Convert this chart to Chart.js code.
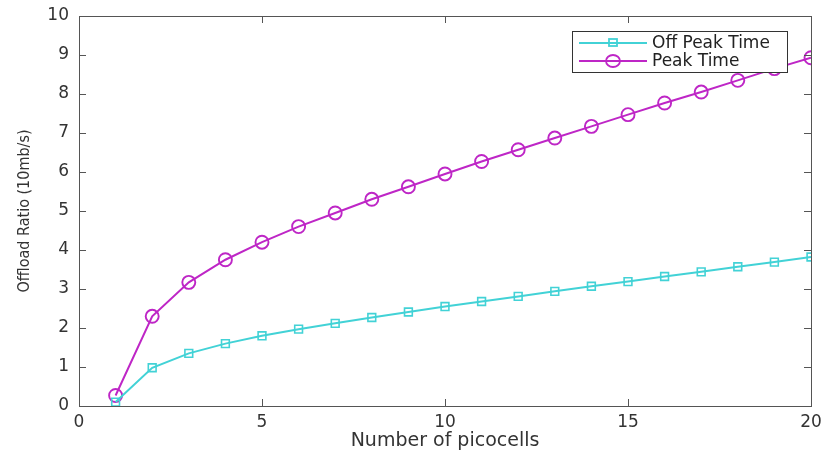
<!DOCTYPE html>
<html>
<head>
<meta charset="utf-8">
<script src="https://cdn.jsdelivr.net/npm/chart.js@4"></script>
<style>
  html, body { margin: 0; padding: 0; background: #fff; }
  #wrap { width: 823px; height: 456px; }
</style>
</head>
<body>
<div id="wrap"><canvas id="myChart" width="823" height="456"></canvas></div>
<script>
const picocells = [1, 2, 3, 4, 5, 6, 7, 8, 9, 10, 11, 12, 13, 14, 15, 16, 17, 18, 19, 20];

const offPeak = [0.10, 0.98, 1.35, 1.60, 1.80, 1.97, 2.12, 2.27, 2.41, 2.55,
                 2.68, 2.81, 2.94, 3.07, 3.19, 3.32, 3.44, 3.57, 3.69, 3.82];

const peak = [0.27, 2.30, 3.17, 3.75, 4.20, 4.60, 4.95, 5.30, 5.62, 5.95,
              6.27, 6.57, 6.87, 7.17, 7.47, 7.77, 8.05, 8.35, 8.65, 8.93];

const xTicks = [0, 5, 10, 15, 20];
const yTicks = [0, 1, 2, 3, 4, 5, 6, 7, 8, 9, 10];

const cyan = 'rgb(66, 210, 214)';
const magenta = 'rgb(190, 38, 198)';
const axisColor = '#555';
const wideFont = '"DejaVu Sans", Verdana, sans-serif';
const titleFont = '"DejaVu Sans Condensed", "Liberation Sans", Arial, sans-serif';

// MATLAB style box: top/right border, inward ticks and legend inside the axes
const boxPlugin = {
    id: 'boxPlugin',
    afterDraw(chart) {
        const c = chart.ctx;
        const a = chart.chartArea;
        const xs = chart.scales.x;
        const ys = chart.scales.y;
        const len = 7;

        c.save();
        c.strokeStyle = axisColor;
        c.lineWidth = 1;
        c.beginPath();
        c.rect(a.left + 0.5, a.top + 0.5, a.right - a.left, a.bottom - a.top);
        c.stroke();

        c.beginPath();
        xTicks.forEach(v => {
            const px = Math.round(xs.getPixelForValue(v)) + 0.5;
            c.moveTo(px, a.bottom); c.lineTo(px, a.bottom - len);
            c.moveTo(px, a.top); c.lineTo(px, a.top + len);
        });
        yTicks.forEach(v => {
            const py = Math.round(ys.getPixelForValue(v)) + 0.5;
            c.moveTo(a.left, py); c.lineTo(a.left + len, py);
            c.moveTo(a.right, py); c.lineTo(a.right - len, py);
        });
        c.stroke();

        // legend box
        const lx = 572, ly = 31, lw = 215, lh = 41;
        c.fillStyle = '#fff';
        c.fillRect(lx, ly, lw, lh);
        c.strokeStyle = '#333';
        c.strokeRect(lx + 0.5, ly + 0.5, lw, lh);

        chart.data.datasets.forEach((ds, i) => {
            const y = ly + 12 + i * 18;
            c.strokeStyle = ds.borderColor;
            c.lineWidth = 1.8;
            c.beginPath();
            c.moveTo(lx + 7, y); c.lineTo(lx + 75, y);
            c.stroke();
            if (ds.pointStyle === 'rect') {
                c.strokeRect(lx + 37, y - 4, 8, 7);
            } else {
                c.beginPath();
                c.ellipse(lx + 41, y, 7, 6, 0, 0, Math.PI * 2);
                c.stroke();
            }
            c.fillStyle = '#222';
            c.font = '17px ' + wideFont;
            c.textBaseline = 'middle';
            c.fillText(ds.label, lx + 80, y + 1);
        });
        c.restore();
    }
};

const ctx = document.getElementById('myChart');

const myChart = new Chart(ctx, {
    type: 'line',
    data: {
        datasets: [
            {
                label: 'Off Peak Time',
                data: picocells.map((x, i) => ({ x: x, y: offPeak[i] })),
                borderColor: cyan,
                backgroundColor: 'rgba(0,0,0,0)',
                borderWidth: 2,
                pointStyle: 'rect',
                pointRadius: 5.5,
                pointBorderWidth: 1.6,
                tension: 0,
                fill: false
            },
            {
                label: 'Peak Time',
                data: picocells.map((x, i) => ({ x: x, y: peak[i] })),
                borderColor: magenta,
                backgroundColor: 'rgba(0,0,0,0)',
                borderWidth: 2,
                pointStyle: 'circle',
                pointRadius: 6.5,
                pointBorderWidth: 1.9,
                tension: 0,
                fill: false
            }
        ]
    },
    options: {
        responsive: false,
        animation: false,
        layout: {
            padding: { top: 16, right: 12, left: 0, bottom: 0 }
        },
        scales: {
            x: {
                type: 'linear',
                min: 0,
                max: 20,
                afterBuildTicks: scale => { scale.ticks = xTicks.map(v => ({ value: v })); },
                afterFit: scale => {
                    scale.height = 50;
                    scale.paddingLeft = 0;
                    scale.paddingRight = 0;
                },
                grid: { display: false, drawTicks: false },
                border: { display: true, color: axisColor },
                ticks: {
                    color: '#333',
                    font: { size: 17, family: wideFont },
                    padding: 6
                },
                title: {
                    display: true,
                    text: 'Number of picocells',
                    color: '#333',
                    font: { size: 19, family: wideFont },
                    padding: { top: 0, bottom: 4 }
                }
            },
            y: {
                type: 'linear',
                min: 0,
                max: 10,
                afterBuildTicks: scale => { scale.ticks = yTicks.map(v => ({ value: v })); },
                afterFit: scale => {
                    scale.width = 79;
                    scale.paddingTop = 0;
                    scale.paddingBottom = 0;
                },
                grid: { display: false, drawTicks: false },
                border: { display: true, color: axisColor },
                ticks: {
                    color: '#333',
                    font: { size: 17, family: wideFont },
                    padding: 10
                },
                title: {
                    display: true,
                    text: 'Offload Ratio (10mb/s)',
                    color: '#333',
                    font: { size: 16, family: titleFont },
                    padding: { top: 15, bottom: 0 }
                }
            }
        },
        plugins: {
            legend: { display: false },
            tooltip: { enabled: false }
        }
    },
    plugins: [boxPlugin]
});
</script>
</body>
</html>
